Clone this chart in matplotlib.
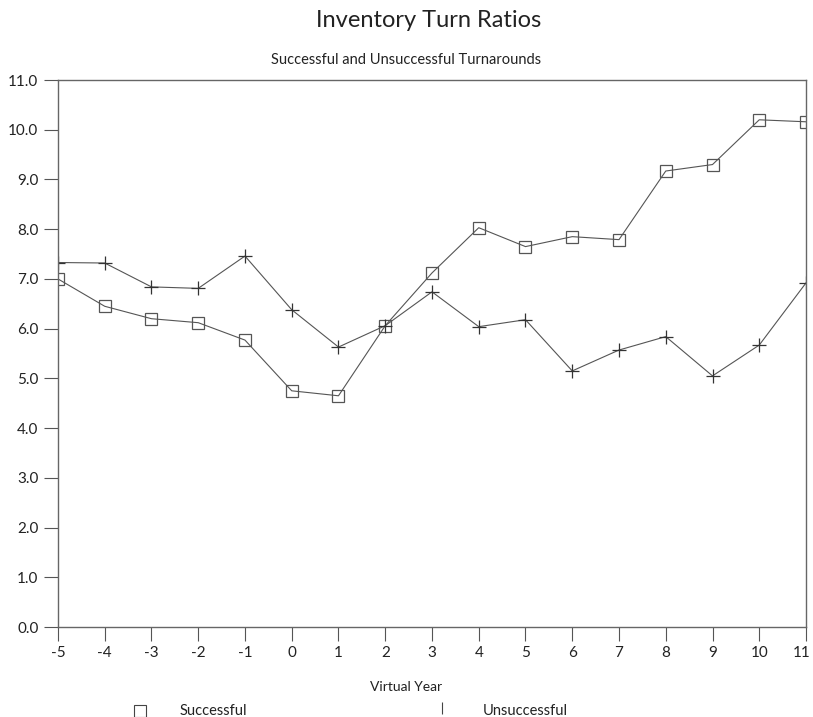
import matplotlib
matplotlib.use("Agg")
import matplotlib.pyplot as plt
import matplotlib.transforms as mtrans
from matplotlib.lines import Line2D

# Data
years = [-5, -4, -3, -2, -1, 0, 1, 2, 3, 4, 5, 6, 7, 8, 9, 10, 11]
successful = [7.0, 6.45, 6.2, 6.12, 5.77, 4.75, 4.65, 6.06, 7.12, 8.03, 7.65,
              7.85, 7.79, 9.17, 9.3, 10.2, 10.16]
unsuccessful = [7.33, 7.32, 6.84, 6.81, 7.46, 6.38, 5.63, 6.06, 6.74, 6.04, 6.18,
                5.15, 5.57, 5.84, 5.05, 5.67, 6.92]
y_ticks = [0, 1, 2, 3, 4, 5, 6, 7, 8, 9, 10, 11]

plt.rcParams['font.family'] = ['Lato', 'DejaVu Sans']
line_col = '#555555'

fig = plt.figure(figsize=(8.13, 7.17), dpi=100)
ax = fig.add_axes([0.0713, 0.1255, 0.9201, 0.7629])

ax.plot(years, successful, color=line_col, lw=0.8, marker='s', ms=8.5,
        mfc='none', mec='#555555', mew=0.9)
ax.plot(years, unsuccessful, color=line_col, lw=0.8, marker='+', ms=10,
        mec='#333333', mew=0.9)

ax.set_xlim(-5, 11)
ax.set_ylim(0, 11)
ax.set_xticks(years)
ax.set_xticklabels([str(y) for y in years])
ax.set_yticks(y_ticks)
ax.set_yticklabels([f'{y:.1f}' for y in y_ticks])
ax.tick_params(direction='out', length=10, width=0.8, colors='#555555',
               labelcolor='#222222', labelsize=11, pad=4)
for s in ax.spines.values():
    s.set_color('#666666')
    s.set_linewidth(1.0)

# last x label sits against the right edge, nudge it in a bit
last = ax.get_xticklabels()[-1]
last.set_transform(last.get_transform() +
                   mtrans.ScaledTranslation(-4 / 100, 0, fig.dpi_scale_trans))

fig.text(0.527, 0.972, 'Inventory Turn Ratios', ha='center', va='center',
         fontsize=17, color='#222222')
fig.text(0.5, 0.917, 'Successful and Unsuccessful Turnarounds', ha='center',
         va='center', fontsize=10.5, color='#222222')
fig.text(0.5, 0.042, 'Virtual Year', ha='center', va='center',
         fontsize=10, color='#222222')

# legend drawn below the x label
fig.add_artist(Line2D([140 / 813], [1 - 711 / 717], transform=fig.transFigure,
                      marker='s', ms=8, mfc='none', mec='#444444', mew=0.8))
fig.text(180 / 813, 1 - 711 / 717, 'Successful', ha='left', va='center',
         fontsize=10.5, color='#222222')
fig.add_artist(Line2D([442 / 813], [1 - 708 / 717], transform=fig.transFigure,
                      marker='|', ms=8, mec='#444444', mew=0.8))
fig.text(483 / 813, 1 - 711 / 717, 'Unsuccessful', ha='left', va='center',
         fontsize=10.5, color='#222222')

fig.savefig('out.png', dpi=100)
